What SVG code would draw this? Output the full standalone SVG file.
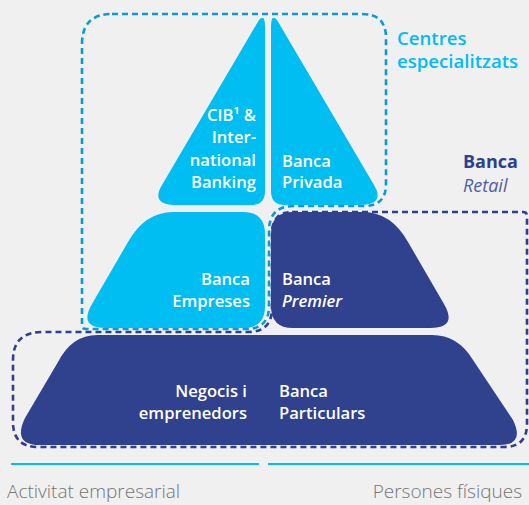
<svg xmlns="http://www.w3.org/2000/svg" width="529" height="505" viewBox="0 0 529 505">
<style>
.lb{fill:#00bdf2}
.db{fill:#30418e}
.t{font-family:"Open Sans","Noto Sans","Liberation Sans",sans-serif;font-size:16.6px;font-weight:600;fill:#ffffff}
.r{text-anchor:end}
.dl{fill:none;stroke:#0a9ad8;stroke-width:2.6;stroke-dasharray:6 4}
.dd{fill:none;stroke:#2e3f8f;stroke-width:2.6;stroke-dasharray:6 4}
.foot{font-family:"Open Sans","Noto Sans","Liberation Sans",sans-serif;font-size:19px;font-weight:300;fill:#757575}
.cs{font-family:"Open Sans","Noto Sans","Liberation Sans",sans-serif;font-size:18.6px;font-weight:600;fill:#00bdf2}
</style>
<rect width="529" height="505" fill="#f0f0f0"/>
<g id="connectors">
<path class="dl" d="M112,14 L362,14 Q386,14 386,38 L386,184 Q386,206 364,206 L294,206 Q269,206 269,231 L269,306 Q269,329 246,329 L86,329 Q82,329 82,325 L82,44 Q82,14 112,14 Z"/>
<path class="dd" d="M292,212 L523,212 Q527,212 527,216 L527,424 Q527,447 504,447 L38,447 Q13,447 13,422 L13,360 Q13,332 43,332 L248,332 Q272,332 272,308 L272,234 Q272,212 292,212 Z"/>
<line x1="11" y1="464" x2="259" y2="464" stroke="#00bdf2" stroke-width="2"/>
<line x1="268" y1="464" x2="529" y2="464" stroke="#00bdf2" stroke-width="2"/>
</g>
<g id="cib">
<path class="lb" d="M265,27 Q265,13 259,20 L162,185 Q150,205 177,205 L251,205 Q265,205 265,191 Z"/>
<text class="t r" x="256"><tspan x="256" y="121">CIB¹ &amp;</tspan><tspan x="256" y="143">Inter-</tspan><tspan x="256" y="166">national</tspan><tspan x="256" y="188">Banking</tspan></text>
</g>
<g id="privada">
<path class="lb" d="M271,27 Q271,13 277,20 L374,185 Q386,205 359,205 L285,205 Q271,205 271,191 Z"/>
<text class="t" x="282"><tspan x="282" y="167">Banca</tspan><tspan x="282" y="188">Privada</tspan></text>
</g>
<g id="empreses">
<path class="lb" d="M173,212 L243,212 Q265,212 265,234 L265,306 Q265,328 243,328 L106,328 Q78,328 92,304 L128,242 Q145,212 173,212 Z"/>
<text class="t r" x="250"><tspan x="250" y="285">Banca</tspan><tspan x="250" y="307">Empreses</tspan></text>
</g>
<g id="premier">
<path class="db" d="M363,212 L293,212 Q271,212 271,234 L271,306 Q271,328 293,328 L430,328 Q458,328 444,304 L408,242 Q391,212 363,212 Z"/>
<text class="t" x="282"><tspan x="282" y="285">Banca</tspan><tspan x="282" y="307" font-style="italic">Premier</tspan></text>
</g>
<g id="particulars">
<path class="db" d="M97,335 L432,335 Q458,335 473,360 L513,420 Q525,445 500,445 L40,445 Q12,445 25,418 L58,362 Q72,335 97,335 Z"/>
<text class="t r" x="247"><tspan x="247" y="397">Negocis i</tspan><tspan x="247" y="419">emprenedors</tspan></text>
<text class="t" x="279"><tspan x="279" y="397">Banca</tspan><tspan x="279" y="419">Particulars</tspan></text>
</g>
<g id="labels">
<text class="cs" x="397" y="45">Centres</text>
<text class="cs" x="397" y="68">especialitzats</text>
<text font-family="Open Sans,Noto Sans,Liberation Sans,sans-serif" font-size="18" font-weight="700" fill="#2e3f8f" x="463" y="168">Banca</text>
<text font-family="Open Sans,Noto Sans,Liberation Sans,sans-serif" font-size="18" font-style="italic" fill="#4f5ea3" x="463" y="192">Retail</text>
<text class="foot" x="7" y="498">Activitat empresarial</text>
<text class="foot" x="522" y="498" text-anchor="end">Persones físiques</text>
</g>
</svg>
